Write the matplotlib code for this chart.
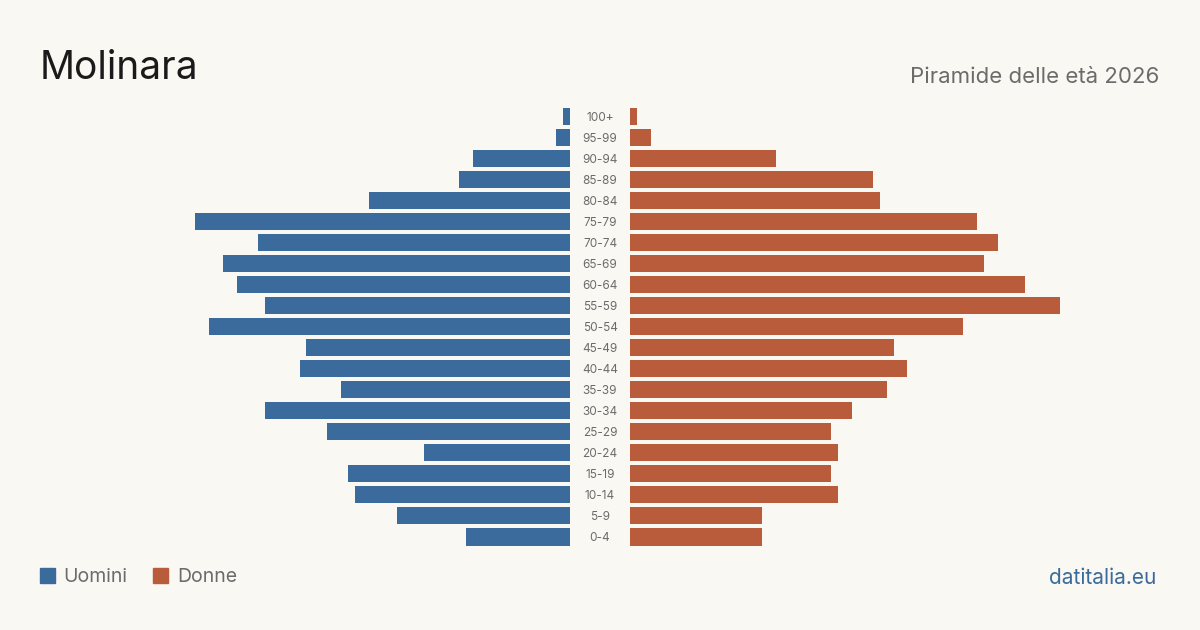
import matplotlib.pyplot as plt
from matplotlib.patches import Rectangle

# dati: popolazione per classe di età (dal basso verso l'alto)
AGES = ["0-4", "5-9", "10-14", "15-19", "20-24", "25-29", "30-34", "35-39",
        "40-44", "45-49", "50-54", "55-59", "60-64", "65-69", "70-74", "75-79",
        "80-84", "85-89", "90-94", "95-99", "100+"]
UOMINI = [15, 25, 31, 32, 21, 35, 44, 33, 39, 38, 52, 44, 48, 50, 45, 54, 29, 16, 14, 2, 1]
DONNE = [19, 19, 30, 29, 30, 29, 32, 37, 40, 38, 48, 62, 57, 51, 53, 50, 36, 35, 21, 3, 1]

BG = "#f9f8f3"
C_M = "#3a6b9c"
C_F = "#b95c3b"
TXT = "#6b6b6b"
FONT = ["Inter", "DejaVu Sans"]

plt.rcParams["font.family"] = FONT

W, H = 1200, 630
fig = plt.figure(figsize=(12, 6.3), dpi=100, facecolor=BG)

XMAX = max(max(UOMINI), max(DONNE))
top, bottom = 106, 547.5  # pixel
yb = 1 - bottom / H
hh = (bottom - top) / H

axL = fig.add_axes([140 / W, yb, 430 / W, hh])
axR = fig.add_axes([630 / W, yb, 430 / W, hh])
y = list(range(len(AGES)))

axL.barh(y, UOMINI, height=0.81, color=C_M)
axR.barh(y, DONNE, height=0.81, color=C_F)
axL.set_xlim(XMAX, 0)
axR.set_xlim(0, XMAX)
for ax in (axL, axR):
    ax.set_ylim(-0.5, len(AGES) - 0.5)
    ax.axis("off")

# etichette età al centro
for i, a in enumerate(AGES):
    yp = 1 - (top + 1.5 + (len(AGES) - 0.5 - i) / len(AGES) * (bottom - top)) / H
    fig.text(600 / W, yp, a, ha="center", va="center", fontsize=8.5, color=TXT)

fig.text(40 / W, 1 - 68.5 / H, "Molinara", fontsize=28, color="#1a1a1a", ha="left", va="center")
fig.text(1159 / W, 1 - 77 / H, "Piramide delle età 2026", fontsize=16, color=TXT,
         ha="right", va="center")

# legenda
fig.add_artist(Rectangle((40 / W, 1 - 583 / H), 15 / W, 15 / H, color=C_M,
                         transform=fig.transFigure))
fig.text(63 / W, 1 - 577.5 / H, "Uomini", fontsize=14, color=TXT, va="center")
fig.add_artist(Rectangle((153 / W, 1 - 583 / H), 15 / W, 15 / H, color=C_F,
                         transform=fig.transFigure))
fig.text(177 / W, 1 - 577.5 / H, "Donne", fontsize=14, color=TXT, va="center")

fig.text(1156 / W, 1 - 577.5 / H, "datitalia.eu", fontsize=15, color=C_M,
         ha="right", va="center")

fig.savefig("out.png", dpi=100, facecolor=BG)
